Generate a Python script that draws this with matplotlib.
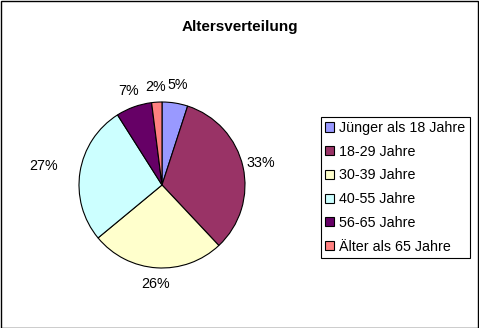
import numpy as np
import matplotlib
matplotlib.use('Agg')
import matplotlib.pyplot as plt
from matplotlib.patches import Rectangle

plt.rcParams['font.family'] = ['Liberation Sans', 'DejaVu Sans']

# data
categories = ['Jünger als 18 Jahre', '18-29 Jahre', '30-39 Jahre',
              '40-55 Jahre', '56-65 Jahre', 'Älter als 65 Jahre']
shares = [5, 33, 26, 27, 7, 2]
colors = ['#9999FF', '#993366', '#FFFFCC', '#CCFFFF', '#660066', '#FF8080']
title = 'Altersverteilung'

# label distance per wedge (excel puts them a bit unevenly)
label_dist = [1.22, 1.22, 1.19, 1.45, 1.2, 1.18]

W, H = 479, 328
fig = plt.figure(figsize=(W / 100, H / 100), dpi=100)
fig.patch.set_facecolor('white')

# pie axes: centre (162,185) px, radius 83 px
cx, cy, r = 162, 185, 83
ax = fig.add_axes([(cx - r) / W, (H - cy - r) / H, 2 * r / W, 2 * r / H])
wedges, _ = ax.pie(shares, colors=colors, startangle=90, counterclock=False,
                   wedgeprops=dict(edgecolor='black', linewidth=0.8))
ax.set_xlim(-1, 1)
ax.set_ylim(-1, 1)
ax.set_axis_off()
ax.set_clip_on(False)

tot = sum(shares)
cum = np.cumsum([0] + shares)
for i, v in enumerate(shares):
    mid = 90 - 360 * (cum[i] + v / 2) / tot
    a = np.deg2rad(mid)
    d = label_dist[i]
    ax.text(d * np.cos(a), d * np.sin(a), f'{v}%', ha='center', va='center',
            fontsize=10.3, clip_on=False)

fig.text(240 / W, 1 - 27 / H, title, ha='center', va='center',
         fontsize=11, fontweight='bold')

leg = fig.legend(wedges, categories, loc='upper left',
                 bbox_to_anchor=(321 / W, 1 - 117 / H),
                 fontsize=10.3, frameon=True, fancybox=False, shadow=False,
                 edgecolor='black', framealpha=1, borderpad=0.28,
                 labelspacing=0.68, handlelength=0.6, handleheight=0.6,
                 handletextpad=0.4, borderaxespad=0)
leg.get_frame().set_linewidth(0.8)

fig.add_artist(Rectangle((0.5 / W, 0.5 / H), 1 - 1.5 / W, 1 - 1.5 / H,
                         transform=fig.transFigure, fill=False,
                         edgecolor='black', linewidth=1))

fig.savefig('out.png', dpi=100, facecolor='white')
